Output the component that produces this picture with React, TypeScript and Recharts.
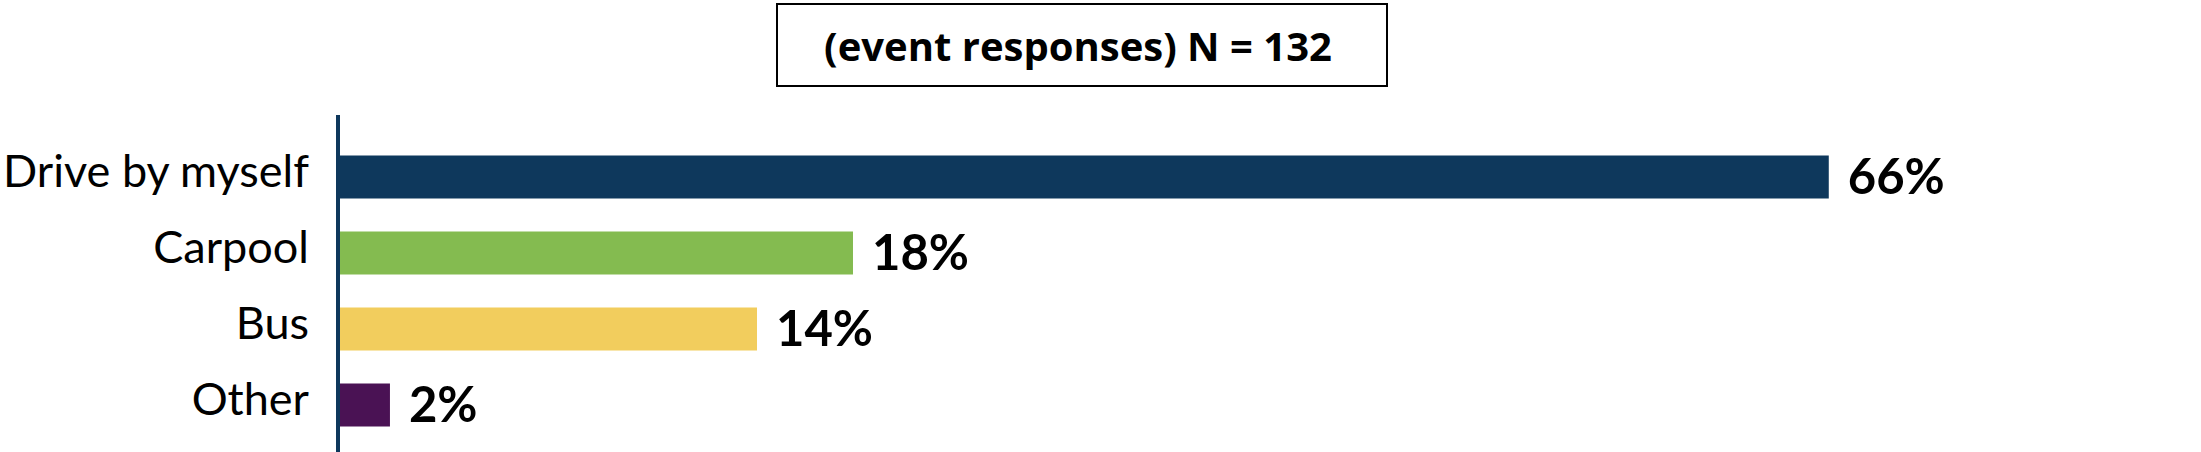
import React from "react";
import { BarChart, Bar, XAxis, YAxis, Cell, LabelList } from "recharts";

// categories, top to bottom
const categories = ["Drive by myself", "Carpool", "Bus", "Other"];
// bar lengths as drawn in the picture (percent scale)
const barLengths = [66, 22.8, 18.55, 2.3];
// printed labels
const valueLabels = ["66%", "18%", "14%", "2%"];
const barColors = ["#0E385C", "#84BB50", "#F2CD5D", "#4A1254"];

const titleText = "(event responses) N = 132";

const chartData = categories.map((name, i) => ({
    name,
    value: barLengths[i],
    label: valueLabels[i],
}));

const App: React.FC = () => {
    return (
        <div style={{ position: "absolute", left: 0, top: 0, width: 2201, height: 452, background: "#fff" }}>
            <BarChart
                width={2201}
                height={452}
                data={chartData}
                layout="vertical"
                margin={{ top: 115, right: 56, left: 0, bottom: 0 }}
            >
                <XAxis type="number" domain={[0, 80]} hide={true} />
                <YAxis
                    type="category"
                    dataKey="name"
                    width={338}
                    padding={{ top: 23.5, bottom: 9.5 }}
                    axisLine={{ stroke: "#0E385C", strokeWidth: 4 }}
                    tickLine={false}
                    tickMargin={23}
                    tick={{ fill: "#000", fontSize: 45, fontFamily: "Lato", dy: -5 }}
                />
                <Bar dataKey="value" barSize={43} isAnimationActive={false}>
                    {chartData.map((d, i) => (
                        <Cell key={d.name} fill={barColors[i]} />
                    ))}
                    <LabelList
                        dataKey="label"
                        position="right"
                        offset={19}
                        style={{ fill: "#000", fontSize: 49, fontWeight: 700, fontFamily: "Lato" }}
                    />
                </Bar>
            </BarChart>
            <div
                style={{
                    position: "absolute",
                    left: 776,
                    top: 3,
                    width: 612,
                    height: 84,
                    boxSizing: "border-box",
                    border: "2px solid #000",
                    display: "flex",
                    alignItems: "center",
                    justifyContent: "center",
                    fontFamily: "Open Sans",
                    fontWeight: 700,
                    fontSize: 40,
                    color: "#000",
                    paddingRight: 8,
                }}
            >
                {titleText}
            </div>
        </div>
    );
};

export default App;
